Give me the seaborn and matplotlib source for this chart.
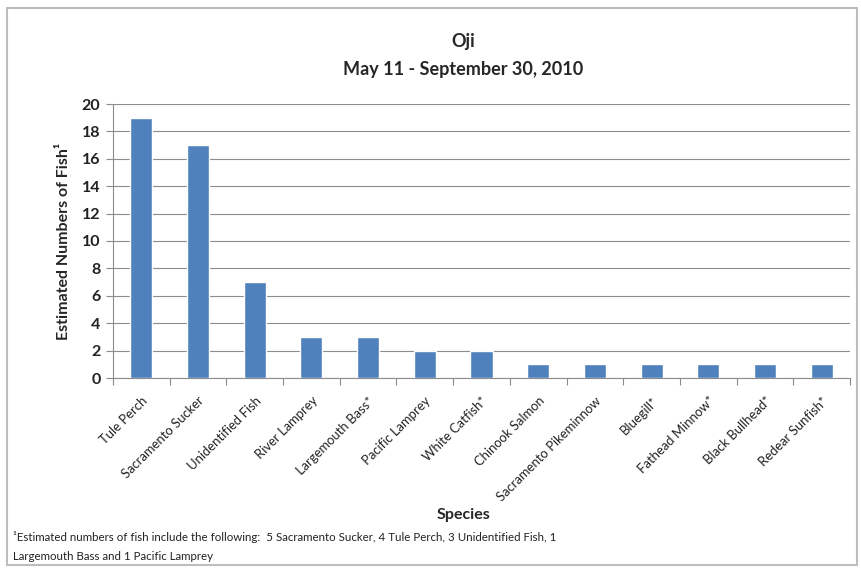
import matplotlib
matplotlib.use("Agg")
import matplotlib.pyplot as plt
import seaborn as sns
import pandas as pd
from matplotlib.patches import Rectangle

species = ["Tule Perch", "Sacramento Sucker", "Unidentified Fish", "River Lamprey",
           "Largemouth Bass*", "Pacific Lamprey", "White Catfish*", "Chinook Salmon",
           "Sacramento Pikeminnow", "Bluegill*", "Fathead Minnow*", "Black Bullhead*",
           "Redear Sunfish*"]
counts = [19, 17, 7, 3, 3, 2, 2, 1, 1, 1, 1, 1, 1]
yticks = [0, 2, 4, 6, 8, 10, 12, 14, 16, 18, 20]

df = pd.DataFrame({"Species": species, "Count": counts})

sns.set_theme(style="white")
plt.rcParams['font.family'] = ['Lato', 'DejaVu Sans']

fig = plt.figure(figsize=(8.62, 5.73), dpi=100)
ax = fig.add_axes([113/862, 1-378/573, (850-113)/862, (378-104)/573])

sns.barplot(data=df, x="Species", y="Count", color="#4F81BD", saturation=1,
            width=0.39, ax=ax, zorder=3)

ax.set_ylim(0, 20)
ax.set_xlim(-0.5, len(species)-0.5)
ax.set_yticks(yticks)
ax.set_yticklabels([str(v) for v in yticks], fontsize=11.5, fontweight='bold', color='#222222')
ax.yaxis.grid(True, color='#8c8c8c', linewidth=0.8, zorder=0)
ax.set_axisbelow(True)
for s in ['top', 'right']:
    ax.spines[s].set_visible(False)
for s in ['left', 'bottom']:
    ax.spines[s].set_color('#8c8c8c')
    ax.spines[s].set_linewidth(0.8)
ax.tick_params(axis='y', direction='out', length=5, color='#8c8c8c', width=0.8, pad=4, left=True)

# category labels
ax.set_xticks(range(len(species)))
ax.set_xticklabels(species, rotation=45, ha='right', rotation_mode='anchor',
                   fontsize=9.4, color='#222222')
ax.tick_params(axis='x', length=0, pad=12)
# boundary tick marks
ax.set_xticks([i - 0.5 for i in range(len(species)+1)], minor=True)
ax.tick_params(axis='x', which='minor', direction='out', length=5, color='#8c8c8c', width=0.8, bottom=True)

ax.set_xlabel("")
ax.set_ylabel("Estimated Numbers of Fish\u00b9", fontsize=11.5, fontweight='bold', labelpad=8)

fig.text(463/862, 1-42/573, "Oji", ha='center', va='center', fontsize=13, fontweight='bold')
fig.text(463/862, 1-70/573, "May 11 - September 30, 2010", ha='center', va='center',
         fontsize=13, fontweight='bold')
fig.text(463/862, 1-515/573, "Species", ha='center', va='center', fontsize=11.5, fontweight='bold')
fig.text(13/862, 1-537/573,
         "\u00b9Estimated numbers of fish include the following:  5 Sacramento Sucker, 4 Tule Perch, 3 Unidentified Fish, 1",
         ha='left', va='center', fontsize=8.3, color='#222222')
fig.text(13/862, 1-556/573, "Largemouth Bass and 1 Pacific Lamprey",
         ha='left', va='center', fontsize=8.3, color='#222222')

fig.patches.append(Rectangle((7/862, 8/573), 850/862, 557/573, transform=fig.transFigure,
                             fill=False, edgecolor='#bdbdbd', linewidth=1.5))

fig.savefig("out.png", dpi=100)
